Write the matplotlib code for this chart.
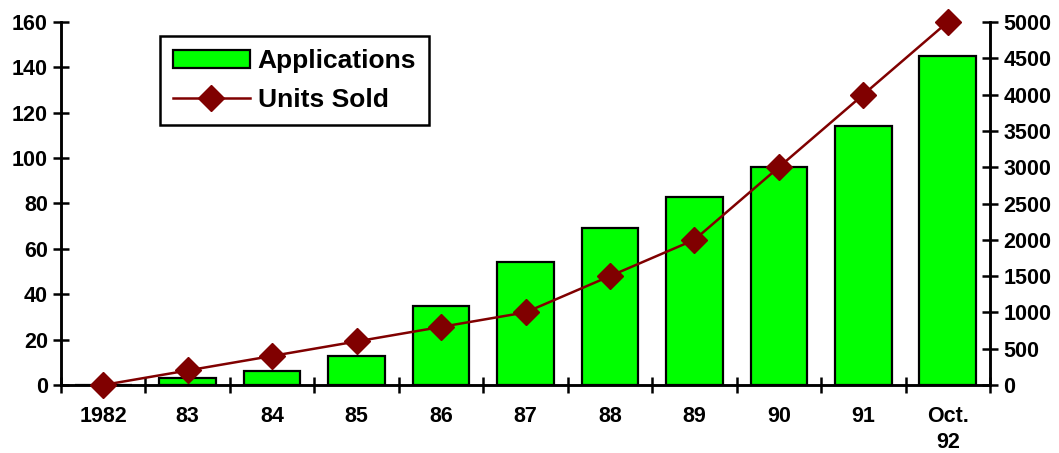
import numpy as np
import matplotlib.pyplot as plt

plt.rcParams['font.family'] = ['Liberation Sans', 'DejaVu Sans']
plt.rcParams['font.weight'] = 'bold'

years = ['1982', '83', '84', '85', '86', '87', '88', '89', '90', '91', 'Oct.\n92']
applications = [0, 3, 6, 13, 35, 54, 69, 83, 96, 114, 145]
units_sold = [0, 200, 400, 600, 800, 1000, 1500, 2000, 3000, 4000, 5000]

fig = plt.figure(figsize=(10.59, 4.53), dpi=100)
ax = fig.add_axes([61 / 1059, 1 - 385 / 453, 929 / 1059, 363 / 453])
ax2 = ax.twinx()

x = np.arange(len(years))
bars = ax.bar(x, applications, width=0.67, color='#00ff00', edgecolor='black',
              linewidth=1.6, label='Applications', zorder=2)
line, = ax2.plot(x, units_sold, color='#800000', linewidth=1.8, marker='D',
                 markersize=13, label='Units Sold', clip_on=False, zorder=3)

ax.set_xlim(-0.5, len(years) - 0.5)
ax.set_ylim(0, 160)
ax2.set_ylim(0, 5000)
ax.set_yticks(range(0, 161, 20))
ax2.set_yticks(range(0, 5001, 500))

ax.set_xticks(x)
ax.set_xticklabels(years, fontsize=15.5, fontweight='bold', linespacing=1.35,
                   va='top')
ax.set_xticks(np.arange(-0.5, len(years)), minor=True)
ax.tick_params(axis='x', which='major', length=0, pad=15)
ax.tick_params(axis='x', which='minor', direction='inout', length=11, width=1.8)
ax.tick_params(axis='y', direction='inout', length=12, width=1.8, labelsize=15.5)
ax2.tick_params(axis='y', direction='inout', length=12, width=1.8, labelsize=15.5)
for lab in ax.get_yticklabels() + ax2.get_yticklabels():
    lab.set_fontweight('bold')

for a in (ax, ax2):
    a.spines['top'].set_visible(False)
    for s in ('left', 'right', 'bottom'):
        a.spines[s].set_linewidth(1.8)

ax.set_zorder(ax2.get_zorder() - 1)
ax2.patch.set_visible(False)

leg = ax2.legend([bars, line], ['Applications', 'Units Sold'], loc='upper left',
                 bbox_to_anchor=(0.1066, 0.961), fancybox=False, framealpha=1,
                 edgecolor='black', prop={'size': 19, 'weight': 'bold'},
                 handlelength=2.9, handletextpad=0.3, borderpad=0.5,
                 labelspacing=0.55, borderaxespad=0)
leg.get_frame().set_linewidth(1.8)

fig.savefig('out.png', dpi=100)
